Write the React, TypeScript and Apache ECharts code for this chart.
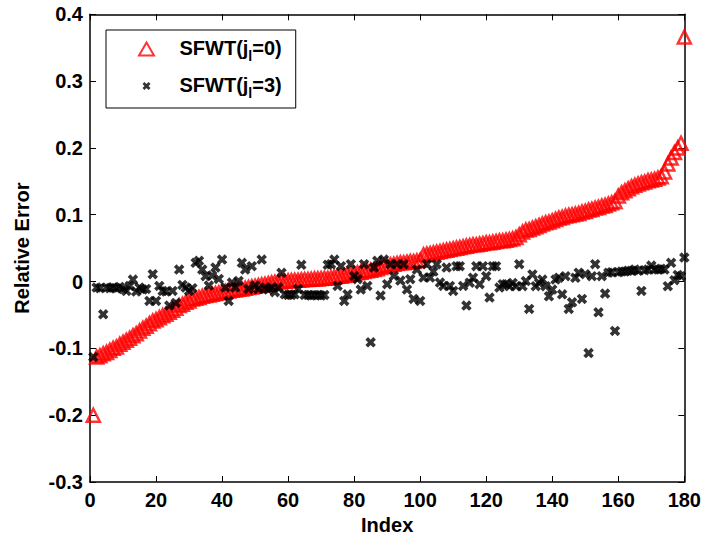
import React, { useEffect, useRef } from "react";
import * as echarts from "echarts";

const seriesNames = ["SFWT(j_l=0)", "SFWT(j_l=3)"];

const xTicks = [0, 20, 40, 60, 80, 100, 120, 140, 160, 180];
const yTicks = [-0.3, -0.2, -0.1, 0, 0.1, 0.2, 0.3, 0.4];

// SFWT(j_l=0), index 1..180 (sorted)
const sfwt0 = [
  -0.200, -0.113, -0.111, -0.108, -0.106, -0.103, -0.100, -0.098, -0.094, -0.091,
  -0.088, -0.085, -0.081, -0.078, -0.074, -0.070, -0.067, -0.063, -0.059, -0.057,
  -0.054, -0.051, -0.049, -0.046, -0.043, -0.040, -0.036, -0.034, -0.031, -0.029,
  -0.026, -0.025, -0.024, -0.022, -0.021, -0.020, -0.019, -0.018, -0.017, -0.016,
  -0.015, -0.014, -0.013, -0.0125, -0.0115, -0.011, -0.010, -0.009, -0.008, -0.007,
  -0.006, -0.005, -0.004, -0.003, -0.002, -0.001, -0.0005, 0.000, 0.0005, 0.001,
  0.0015, 0.002, 0.002, 0.0025, 0.003, 0.003, 0.0035, 0.004, 0.004, 0.0045,
  0.005, 0.005, 0.006, 0.007, 0.008, 0.008, 0.009, 0.010, 0.011, 0.012,
  0.013, 0.014, 0.015, 0.016, 0.017, 0.018, 0.019, 0.021, 0.023, 0.024,
  0.025, 0.026, 0.027, 0.028, 0.028, 0.029, 0.030, 0.030, 0.031, 0.032,
  0.040, 0.041, 0.042, 0.043, 0.044, 0.045, 0.046, 0.047, 0.048, 0.049,
  0.050, 0.051, 0.052, 0.053, 0.054, 0.055, 0.055, 0.056, 0.057, 0.058,
  0.058, 0.059, 0.060, 0.061, 0.061, 0.062, 0.063, 0.064, 0.066, 0.070,
  0.074, 0.077, 0.078, 0.080, 0.082, 0.084, 0.086, 0.088, 0.089, 0.091,
  0.093, 0.095, 0.096, 0.098, 0.099, 0.100, 0.101, 0.102, 0.104, 0.105,
  0.107, 0.108, 0.110, 0.111, 0.113, 0.114, 0.116, 0.118, 0.120, 0.128,
  0.133, 0.136, 0.139, 0.142, 0.144, 0.146, 0.148, 0.149, 0.151, 0.152,
  0.153, 0.155, 0.157, 0.164, 0.176, 0.185, 0.193, 0.200, 0.207, 0.366,
];

// SFWT(j_l=3), index 1..180
const sfwt3 = [
  -0.113, -0.009, -0.010, -0.049, -0.009, -0.010, -0.009, -0.010, -0.008, -0.011,
  -0.014, -0.0065, 0.003, -0.015, -0.009, -0.012, -0.011, -0.029, 0.011, -0.029,
  -0.0065, -0.014, -0.015, -0.036, -0.014, -0.032, 0.018, -0.005, -0.009, -0.014,
  -0.010, 0.028, 0.031, 0.018, 0.008, -0.006, 0.009, 0.021, 0.004, 0.033,
  -0.009, -0.029, -0.0015, -0.009, 0.001, 0.028, 0.018, -0.011, 0.023, -0.006,
  -0.011, 0.033, -0.009, -0.012, -0.009, -0.016, -0.009, 0.013, -0.019, -0.020,
  -0.020, -0.019, -0.011, 0.025, -0.020, -0.020, -0.021, -0.020, -0.020, -0.021,
  -0.020, 0.025, 0.026, 0.033, -0.0066, 0.023, -0.029, -0.019, 0.026, 0.0085,
  0.0035, -0.012, 0.026, -0.0066, -0.091, 0.021, 0.031, -0.021, 0.033, -0.004,
  0.026, 0.0085, 0.026, 0.0015, 0.026, -0.012, 0.0035, -0.026, 0.018, -0.029,
  0.006, 0.026, 0.006, 0.015, 0.026, -0.0015, -0.0066, 0.021, -0.0066, -0.014,
  0.023, 0.023, -0.0066, -0.036, -0.0017, 0.0058, 0.023, -0.004, 0.023, 0.008,
  -0.024, 0.023, 0.023, -0.009, -0.004, -0.004, -0.007, -0.002, -0.007, 0.026,
  -0.007, 0.0008, -0.041, 0.0106, -0.007, -0.002, 0.003, -0.007, -0.022, -0.012,
  0.003, 0.0058, -0.019, 0.008, -0.041, -0.031, 0.0056, 0.0133, -0.026, 0.011,
  -0.107, 0.008, 0.026, -0.046, 0.008, -0.018, 0.0133, 0.014, -0.074, 0.014,
  0.015, 0.015, 0.016, 0.016, 0.018, 0.016, -0.014, 0.017, 0.018, 0.024,
  0.018, 0.018, 0.019, 0.018, -0.007, 0.028, 0.002, 0.010, 0.008, 0.036,
];

const FONT = "'Liberation Sans', Arial, Helvetica, sans-serif";
const X_PATH =
  "path://M0,2.5L2.5,0L5,2.5L7.5,0L10,2.5L7.5,5L10,7.5L7.5,10L5,7.5L2.5,10L0,7.5L2.5,5Z";
const X_LEGEND_PATH =
  "path://M-3,-3M13,13M0,2.5L2.5,0L5,2.5L7.5,0L10,2.5L7.5,5L10,7.5L7.5,10L5,7.5L2.5,10L0,7.5L2.5,5Z";
const TRI_LEGEND_PATH = "path://M5,0L10,8.66L0,8.66Z";

function fmtY(v: number): string {
  if (Math.abs(v) < 1e-9) return "0";
  return v.toFixed(1);
}

function legendLabel(name: string): string {
  const m = name.match(/^(.*\(j)_l(=.*)$/);
  if (!m) return name;
  return `{b|${m[1]}}{s|l}{b|${m[2]}}`;
}

export default function App() {
  const ref = useRef<HTMLDivElement>(null);
  useEffect(() => {
    if (!ref.current) return;
    const chart = echarts.init(ref.current, undefined, { renderer: "svg" });
    const axisCommon = {
      type: "value" as const,
      axisLine: { show: true, onZero: false, lineStyle: { color: "#000", width: 1.5 } },
      axisTick: { show: true, inside: true, length: 6, lineStyle: { color: "#000", width: 1 } },
      splitLine: { show: false },
    };
    const labelStyle = { color: "#000", fontSize: 20, fontWeight: "bold" as const, fontFamily: FONT };
    chart.setOption({
      animation: false,
      backgroundColor: "#fff",
      grid: { left: 90, right: 18.5, top: 14.3, bottom: 56.7, containLabel: false },
      xAxis: [
        {
          ...axisCommon,
          position: "bottom",
          min: xTicks[0],
          max: xTicks[xTicks.length - 1],
          interval: 20,
          axisLabel: { ...labelStyle, margin: 8 },
          name: "Index",
          nameLocation: "middle",
          nameGap: 33,
          nameTextStyle: { ...labelStyle },
        },
        {
          ...axisCommon,
          position: "top",
          min: xTicks[0],
          max: xTicks[xTicks.length - 1],
          interval: 20,
          axisLabel: { show: false },
        },
      ],
      yAxis: [
        {
          ...axisCommon,
          position: "left",
          min: yTicks[0],
          max: yTicks[yTicks.length - 1],
          interval: 0.1,
          axisLabel: { ...labelStyle, margin: 7, formatter: fmtY },
          name: "Relative Error",
          nameLocation: "middle",
          nameGap: 58,
          nameRotate: 90,
          nameTextStyle: { ...labelStyle },
        },
        {
          ...axisCommon,
          position: "right",
          min: yTicks[0],
          max: yTicks[yTicks.length - 1],
          interval: 0.1,
          axisLabel: { show: false },
        },
      ],
      legend: {
        orient: "vertical",
        left: 106,
        top: 30,
        padding: [8, 14, 8, 32],
        itemWidth: 56,
        itemHeight: 13,
        itemGap: 12,
        borderColor: "#000",
        borderWidth: 1,
        backgroundColor: "#fff",
        data: [
          { name: seriesNames[0], icon: TRI_LEGEND_PATH },
          { name: seriesNames[1], icon: X_LEGEND_PATH },
        ],
        formatter: legendLabel,
        textStyle: {
          color: "#000",
          fontSize: 20,
          fontWeight: "bold",
          fontFamily: FONT,
          rich: {
            b: { fontSize: 20, fontWeight: "bold", fontFamily: FONT, color: "#000", verticalAlign: "top", lineHeight: 22 },
            s: { fontSize: 14, fontWeight: "bold", fontFamily: FONT, color: "#000", verticalAlign: "top", lineHeight: 14, padding: [11, 0, 0, 0] },
          },
        },
      },
      series: [
        {
          name: seriesNames[0],
          type: "scatter",
          xAxisIndex: 0,
          yAxisIndex: 0,
          symbol: "triangle",
          symbolSize: 13,
          itemStyle: { color: "rgba(255,255,255,0)", borderColor: "#ff0000", borderWidth: 2.5 },
          data: sfwt0.map((v, k) => [k + 1, v]),
          z: 2,
        },
        {
          name: seriesNames[1],
          type: "scatter",
          xAxisIndex: 0,
          yAxisIndex: 0,
          symbol: X_PATH,
          symbolSize: 10.5,
          itemStyle: { color: "#000" },
          data: sfwt3.map((v, k) => [k + 1, v]),
          z: 3,
        },
      ],
    });
    return () => chart.dispose();
  }, []);
  return (
    <div
      ref={ref}
      style={{ position: "fixed", left: 0, top: 0, width: 704, height: 540, background: "#fff" }}
    />
  );
}
